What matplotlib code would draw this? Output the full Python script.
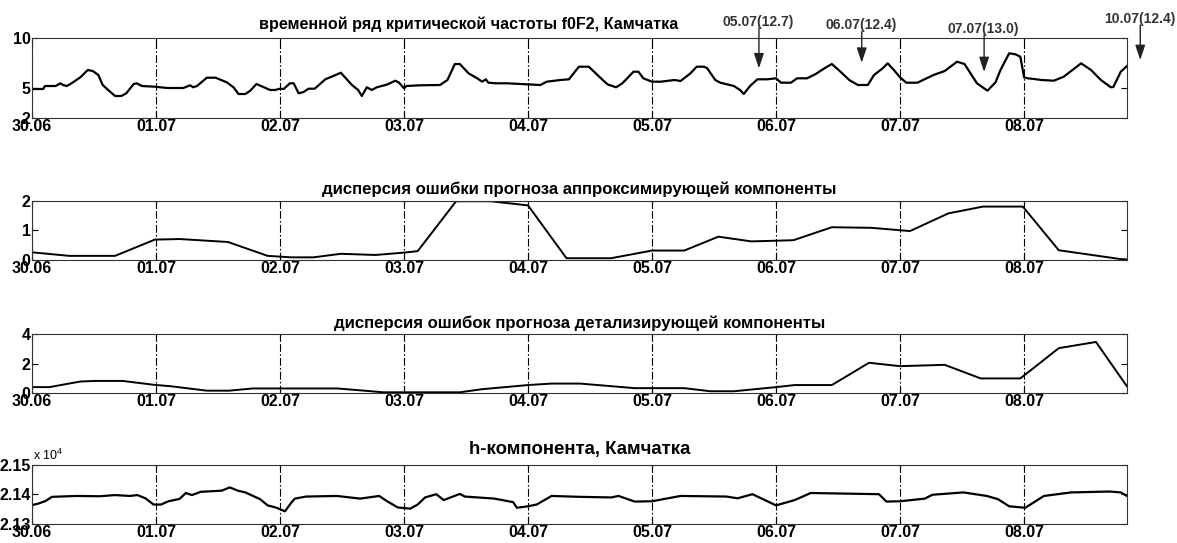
import matplotlib
matplotlib.use('Agg')
import matplotlib.pyplot as plt

plt.rcParams['font.family'] = ['Liberation Sans', 'DejaVu Sans']
plt.rcParams['mathtext.default'] = 'regular'

# x axis: days since 30.06 00:00
day_ticks = [0, 1, 2, 3, 4, 5, 6, 7, 8]
day_labels = ['30.06', '01.07', '02.07', '03.07', '04.07', '05.07', '06.07', '07.07', '08.07']
x_end = 8.83

# critical frequency f0F2, MHz
f0f2_day = [0.00, 0.09, 0.105, 0.19, 0.23, 0.25, 0.28, 0.31, 0.39, 0.45, 0.49, 0.535, 0.57, 0.62,
            0.67, 0.72, 0.76, 0.82, 0.845, 0.885, 0.99, 1.09, 1.22, 1.275, 1.30, 1.33, 1.41, 1.48,
            1.57, 1.625, 1.665, 1.72, 1.76, 1.81, 1.87, 1.92, 1.96, 2.00, 2.03, 2.08, 2.11, 2.15,
            2.19, 2.23, 2.28, 2.365, 2.43, 2.49, 2.58, 2.63, 2.66, 2.70, 2.74, 2.78, 2.86, 2.93,
            2.96, 3.00, 3.02, 3.13, 3.29, 3.35, 3.41, 3.45, 3.52, 3.59, 3.63, 3.66, 3.68, 3.74,
            3.83, 3.99, 4.10, 4.15, 4.26, 4.33, 4.41, 4.49, 4.56, 4.64, 4.71, 4.76, 4.80, 4.85,
            4.89, 4.93, 5.00, 5.07, 5.18, 5.23, 5.31, 5.36, 5.42, 5.445, 5.51, 5.55, 5.66, 5.71,
            5.74, 5.79, 5.85, 5.93, 6.00, 6.04, 6.12, 6.17, 6.25, 6.32, 6.39, 6.45, 6.52, 6.59,
            6.66, 6.74, 6.79, 6.86, 6.90, 6.95, 7.00, 7.05, 7.14, 7.27, 7.36, 7.46, 7.52, 7.62,
            7.705, 7.77, 7.81, 7.88, 7.93, 7.97, 8.00, 8.03, 8.08, 8.14, 8.24, 8.32, 8.46, 8.54,
            8.62, 8.70, 8.72, 8.78, 8.83]
f0f2_val = [4.9, 4.9, 5.2, 5.2, 5.47, 5.3, 5.2, 5.4, 6.07, 6.8, 6.7, 6.3, 5.3, 4.73,
            4.2, 4.2, 4.47, 5.4, 5.47, 5.2, 5.13, 5.0, 5.0, 5.27, 5.07, 5.2, 6.03, 6.03,
            5.57, 5.07, 4.4, 4.4, 4.73, 5.4, 5.07, 4.8, 4.8, 4.93, 4.9, 5.47, 5.47, 4.47,
            4.6, 4.93, 4.93, 5.87, 6.2, 6.53, 5.3, 4.8, 4.2, 5.07, 4.8, 5.07, 5.33, 5.73,
            5.53, 4.97, 5.2, 5.27, 5.3, 5.8, 7.4, 7.4, 6.47, 5.97, 5.63, 5.87, 5.53, 5.47,
            5.47, 5.37, 5.3, 5.63, 5.8, 5.87, 7.13, 7.13, 6.3, 5.37, 5.07, 5.47, 5.97, 6.63,
            6.63, 5.97, 5.63, 5.63, 5.8, 5.7, 6.47, 7.13, 7.13, 6.97, 5.8, 5.53, 5.2, 4.8,
            4.4, 5.2, 5.87, 5.87, 5.97, 5.53, 5.53, 5.97, 5.97, 6.4, 6.97, 7.4, 6.63, 5.8,
            5.3, 5.3, 6.3, 6.97, 7.47, 6.8, 6.07, 5.53, 5.53, 6.3, 6.7, 7.63, 7.4, 5.47,
            4.73, 5.57, 6.8, 8.47, 8.37, 8.13, 6.07, 5.97, 5.9, 5.8, 5.73, 6.13, 7.47, 6.8,
            5.8, 5.07, 5.1, 6.63, 7.2]

# forecast error variance, approximating component
appr_day = [0.00, 0.30, 0.67, 0.99, 1.19, 1.58, 1.90, 2.09, 2.27, 2.49, 2.77, 3.00, 3.11, 3.42,
            3.70, 4.00, 4.31, 4.67, 5.00, 5.26, 5.535, 5.80, 6.14, 6.45, 6.77, 7.08, 7.39, 7.67,
            7.99, 8.28, 8.78, 8.83]
appr_val = [0.26, 0.14, 0.14, 0.69, 0.71, 0.61, 0.14, 0.09, 0.09, 0.21, 0.17, 0.25, 0.30, 1.99,
            1.99, 1.85, 0.06, 0.06, 0.32, 0.32, 0.79, 0.63, 0.67, 1.11, 1.09, 0.98, 1.58, 1.81,
            1.81, 0.33, 0.03, 0.02]

# forecast error variance, detailing component
det_day = [0.00, 0.14, 0.39, 0.51, 0.73, 0.98, 1.13, 1.41, 1.59, 1.78, 2.00, 2.46, 2.68, 2.83,
           3.45, 3.63, 4.00, 4.19, 4.42, 4.86, 5.26, 5.47, 5.66, 6.00, 6.15, 6.45, 6.75, 7.00,
           7.36, 7.65, 7.97, 8.28, 8.58, 8.83]
det_val = [0.4, 0.4, 0.78, 0.82, 0.82, 0.56, 0.45, 0.16, 0.16, 0.31, 0.31, 0.31, 0.16, 0.05,
           0.05, 0.26, 0.54, 0.64, 0.64, 0.33, 0.33, 0.12, 0.12, 0.40, 0.54, 0.54, 2.05, 1.82,
           1.91, 0.99, 0.99, 3.04, 3.46, 0.45]

# h-component of the magnetic field, nT
h_day = [0.00, 0.05, 0.11, 0.16, 0.36, 0.545, 0.67, 0.79, 0.85, 0.915, 0.98, 1.04, 1.10, 1.19,
         1.24, 1.29, 1.36, 1.53, 1.595, 1.66, 1.72, 1.84, 1.90, 1.965, 2.04, 2.09, 2.12, 2.21,
         2.46, 2.645, 2.80, 2.86, 2.95, 3.05, 3.11, 3.17, 3.26, 3.32, 3.45, 3.49, 3.73, 3.88,
         3.91, 4.00, 4.07, 4.19, 4.42, 4.67, 4.73, 4.86, 5.00, 5.23, 5.60, 5.69, 5.81, 6.00,
         6.15, 6.28, 6.83, 6.89, 7.00, 7.20, 7.26, 7.51, 7.70, 7.79, 7.88, 8.01, 8.16, 8.38,
         8.69, 8.78, 8.83]
h_val = [21364, 21369, 21378, 21392, 21395, 21394, 21398, 21395, 21398, 21387, 21366, 21366,
         21377, 21385, 21405, 21398, 21409, 21413, 21424, 21413, 21407, 21384, 21363, 21356,
         21343, 21372, 21386, 21393, 21395, 21386, 21395, 21378, 21356, 21352, 21366, 21390,
         21401, 21381, 21402, 21393, 21386, 21374, 21355, 21360, 21366, 21395, 21392, 21390,
         21395, 21376, 21377, 21395, 21393, 21387, 21401, 21363, 21381, 21405, 21401, 21376,
         21377, 21386, 21399, 21407, 21395, 21384, 21360, 21355, 21395, 21407, 21410, 21407,
         21395]

# marked dates (max f0F2) over the first panel
mark_labels = ['05.07(12.7)', '06.07(12.4)', '07.07(13.0)', '10.07(12.4)']
mark_day = [5.862, 6.691, 7.678, 8.937]
mark_text_y = [11.65, 11.3, 10.9, 11.9]
mark_start_y = [11.0, 10.63, 10.3, 11.3]
mark_tip_y = [6.97, 7.53, 6.6, 7.8]

fig = plt.figure(figsize=(11.77, 5.43), dpi=100)

left, width = 0.0272, 0.9303
ax1 = fig.add_axes([left, 0.7827, width, 0.1473])
ax2 = fig.add_axes([left, 0.5212, width, 0.1087])
ax3 = fig.add_axes([left, 0.2762, width, 0.1087])
ax4 = fig.add_axes([left, 0.0350, width, 0.1087])


def style(ax, ylim, yticks, ylabels):
    ax.set_xlim(0, x_end)
    ax.set_ylim(ylim)
    ax.set_xticks(day_ticks)
    ax.set_xticklabels(day_labels)
    ax.set_yticks(yticks)
    ax.set_yticklabels(ylabels)
    ax.tick_params(direction='in', length=4, width=0.8, top=True, right=True,
                   pad=1, labelsize=11.5)
    for lab in ax.get_xticklabels() + ax.get_yticklabels():
        lab.set_fontweight('bold')
    ax.grid(axis='x', color='k', linestyle=(0, (7, 2, 1.5, 2)), linewidth=0.8)
    for sp in ax.spines.values():
        sp.set_linewidth(0.8)
        sp.set_color('#333333')


ax1.plot(f0f2_day, f0f2_val, color='k', lw=1.6)
style(ax1, (2, 10), [2, 5, 10], ['2', '5', '10'])
ax1.text(0.399, 1.175, 'временной ряд критической частоты f0F2, Камчатка', transform=ax1.transAxes,
         ha='center', va='center', fontsize=11.6, fontweight='bold')

for lab, d, ty, sy, tipy in zip(mark_labels, mark_day, mark_text_y, mark_start_y, mark_tip_y):
    ax1.annotate('', xy=(d, tipy), xytext=(d, sy), annotation_clip=False,
                 arrowprops=dict(arrowstyle='-|>,head_length=0.9,head_width=0.3',
                                 color='#222222', lw=1, shrinkA=0, shrinkB=0))
    ax1.text(d - 0.005, ty, lab, ha='center', va='center', fontsize=10, fontweight='bold',
             color='#333333', family=['Liberation Sans Narrow', 'Liberation Sans'], clip_on=False)

ax2.plot(appr_day, appr_val, color='k', lw=1.4)
style(ax2, (0, 2), [0, 1, 2], ['0', '1', '2'])
ax2.text(0.5, 1.203, 'дисперсия ошибки прогноза аппроксимирующей компоненты', transform=ax2.transAxes,
         ha='center', va='center', fontsize=12.1, fontweight='bold')

ax3.plot(det_day, det_val, color='k', lw=1.4)
style(ax3, (0, 4), [0, 2, 4], ['0', '2', '4'])
ax3.text(0.5, 1.186, 'дисперсия ошибок прогноза детализирующей компоненты', transform=ax3.transAxes,
         ha='center', va='center', fontsize=12.1, fontweight='bold')

ax4.plot(h_day, [v / 1e4 for v in h_val], color='k', lw=1.6)
style(ax4, (2.13, 2.15), [2.13, 2.14, 2.15], ['2.13', '2.14', '2.15'])
ax4.text(0.5, 1.27, 'h-компонента, Камчатка', transform=ax4.transAxes,
         ha='center', va='center', fontsize=13.4, fontweight='bold')
ax4.text(0.001, 1.17, r'x 10$^{4}$', transform=ax4.transAxes, ha='left', va='center', fontsize=9)

fig.savefig('out.png', dpi=100)
